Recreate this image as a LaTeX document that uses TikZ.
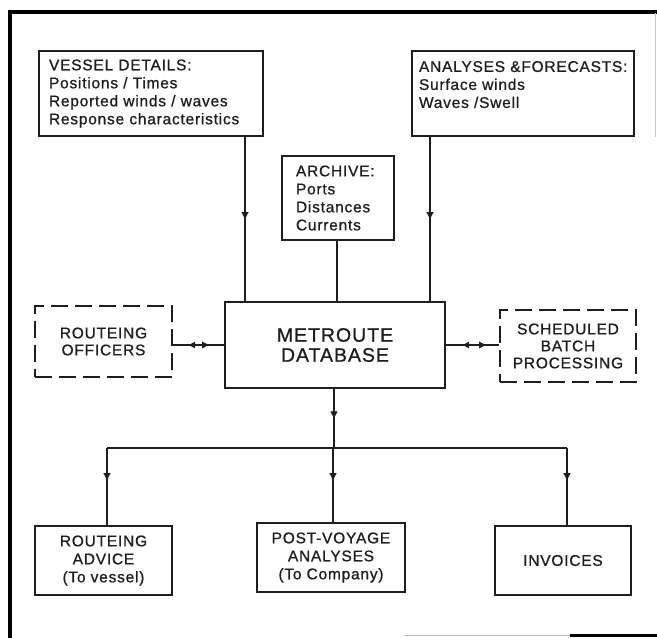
\documentclass[tikz,border=0pt]{standalone}
\usepackage{fontspec}
\setmainfont{Liberation Sans}
\newfontfamily\boxfont[LetterSpace=5,FakeBold=0.8]{Liberation Sans}
\usetikzlibrary{arrows.meta,decorations.markings}
\definecolor{ink}{HTML}{1E1E1E}
\tikzset{
  box/.style={draw=ink, line width=1.4pt, inner sep=0pt, text=ink,
    font=\boxfont\fontsize{15.5}{18}\selectfont},
  tightbox/.style={box, font=\boxfont\fontsize{15.5}{17}\selectfont},
  dbox/.style={tightbox, dash pattern=on 17pt off 7pt},
  conn/.style={draw=ink, line width=1.2pt},
  midarrow/.style={postaction={decorate}, decoration={markings,
    mark=at position #1 with {\arrow{Triangle[width=7pt,length=7pt]}}}},
  twoway/.style n args={2}{postaction={decorate}, decoration={markings,
    mark=at position #1 with {\arrowreversed{Triangle[width=6.5pt,length=6.5pt]}},
    mark=at position #2 with {\arrow{Triangle[width=6.5pt,length=6.5pt]}}}},
}
\begin{document}
\begin{tikzpicture}[x=1pt,y=-1pt]
\useasboundingbox (0,0) rectangle (657,638);
\fill[white] (0,0) rectangle (657,638);

% frame
\draw[line width=4pt, black, line join=miter] (10,638) -- (10,11.5) -- (657,11.5);
\draw[line width=1pt, gray!45] (655,13) -- (655,137);
\draw[line width=1.5pt, gray!55] (405,635.5) -- (570,635.5);
\draw[line width=2.5pt, black] (570,635.5) -- (657,635.5);

% nodes
\node[box, minimum width=224, minimum height=85, text width=204, align=left] (ves) at (151,93.5)
  {VESSEL DETAILS:\\Positions / Times\\Reported winds / waves\\\mbox{Response characteristics}};
\node[box, minimum width=222, minimum height=85, text width=208, align=left] (ana) at (523,93.5)
  {\mbox{ANALYSES \&FORECASTS:}\\Surface winds\\Waves /Swell\\\mbox{}};
\node[box, minimum width=112, minimum height=84, text width=84, align=left] (arc) at (338,198)
  {ARCHIVE:\\Ports\\Distances\\Currents};
\node[box, minimum width=220, minimum height=86, align=center,
  font=\boxfont\fontsize{19.5}{20}\selectfont] (db) at (335,345) {METROUTE\\DATABASE};
\node[dbox, minimum width=137, minimum height=71, align=center] (ro) at (103.5,341.5)
  {ROUTEING\\OFFICERS};
\node[dbox, minimum width=136, minimum height=72, align=center] (sb) at (568,346)
  {SCHEDULED\\BATCH\\PROCESSING};
\node[box, minimum width=137, minimum height=69, align=center] (adv) at (103.5,560.5)
  {ROUTEING\\ADVICE\\(To vessel)};
\node[box, minimum width=148, minimum height=69, align=center] (pv) at (331,557.5)
  {POST-VOYAGE\\ANALYSES\\(To Company)};
\node[box, minimum width=136, minimum height=69, align=center] (inv) at (563,560.5)
  {INVOICES};

% inputs to database
\draw[conn, midarrow=0.5] ([xshift=94]ves.south) -- ([xshift=94]ves.south |- db.north);
\draw[conn] ([xshift=-1]arc.south) -- ([xshift=-1]arc.south |- db.north);
\draw[conn, midarrow=0.5] ([xshift=-93]ana.south) -- ([xshift=-93]ana.south |- db.north);

% two-way links
\draw[conn, twoway={16pt}{36pt}] (ro.east |- db.west) -- (db.west);
\draw[conn, twoway={17pt}{40pt}] (db.east) -- (db.east -| sb.west);

% outputs
\coordinate (j) at (334,448);
\draw[conn, midarrow=0.5] ([xshift=-1]db.south) -- ([xshift=-1]db.south |- j);
\draw[conn] ([xshift=3.5]adv.north |- j) -- ([xshift=4]inv.north |- j);
\draw[conn, midarrow=32pt] ([xshift=3.5]adv.north |- j) -- ([xshift=3.5]adv.north);
\draw[conn, midarrow=32pt] ([xshift=2]pv.north |- j) -- ([xshift=2]pv.north);
\draw[conn, midarrow=32pt] ([xshift=4]inv.north |- j) -- ([xshift=4]inv.north);
\end{tikzpicture}
\end{document}
